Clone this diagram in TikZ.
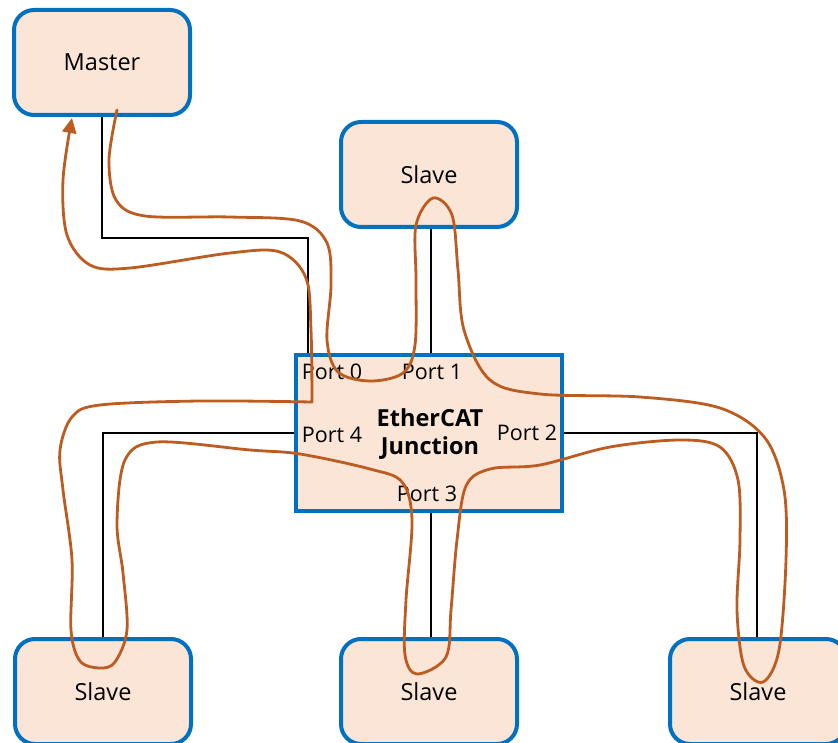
\documentclass[tikz,border=0pt]{standalone}
\usepackage{fontspec}
\setmainfont{Open Sans}
\usetikzlibrary{arrows.meta}
\definecolor{boxfill}{RGB}{251,229,214}
\definecolor{boxline}{RGB}{0,112,192}
\definecolor{frame}{RGB}{188,92,32}
\begin{document}
\begin{tikzpicture}[x=1pt,y=-1pt,
    unit/.style={draw=boxline,fill=boxfill,line width=4pt,rounded corners=20pt,
      minimum width=176pt,minimum height=105pt,inner sep=0pt,
      font=\fontsize{23.5}{28}\selectfont},
    junctionbox/.style={draw=boxline,fill=boxfill,line width=4pt,
      minimum width=266pt,minimum height=156pt,inner sep=0pt},
    portlabel/.style={inner sep=0pt,font=\fontsize{21.5}{26}\selectfont},
    wire/.style={line width=1.5pt,black},
    signal/.style={line width=2.8pt,frame,line cap=round,line join=round}]
  \useasboundingbox (0,0) rectangle (838,743);
  \clip (0,0) rectangle (838,743);

  \node[unit] (master) at (102,62.5) {Master};
  \node[unit] (slavetop) at (429,174.5) {Slave};
  \node[junctionbox] (junction) at (429,433) {};
  \node[unit] (slaveleft) at (103,691.5) {Slave};
  \node[unit] (slavemid) at (429,691.5) {Slave};
  \node[unit] (slaveright) at (758,691.5) {Slave};

  \draw[wire] (master.south) -- ++(0,121) -| ([xshift=14pt]junction.north west);
  \draw[wire] ([xshift=2pt]slavetop.south) -- ([xshift=2pt]junction.north);
  \draw[wire] (junction.west) -| (slaveleft.north);
  \draw[wire] (junction.east) -| ([xshift=-1pt]slaveright.north);
  \draw[wire] ([xshift=2pt]junction.south) -- ([xshift=2pt]slavemid.north);

  \node[portlabel] (port0) at (332,372) {Port 0};
  \node[portlabel] (port1) at (432,372) {Port 1};
  \node[portlabel] (port4) at (332,435) {Port 4};
  \node[portlabel] (port2) at (527,433) {Port 2};
  \node[portlabel] (port3) at (427,494) {Port 3};
  \node[portlabel,align=center,font=\fontsize{23.5}{28}\selectfont\bfseries]
    (title) at (430,434) {EtherCAT\\Junction};

  \draw[signal,-{Triangle[length=15pt,width=14pt]}]
    plot[smooth,tension=0.55] coordinates {
      (117,110) (109,160) (116,200) (145,216) (230,217) (300,221) (327,243)
      (331,285) (327,340) (338,372) (370,381) (403,373) (415,345) (416,280)
      (416,225) (433,198) (452,215) (458,270) (464,330) (490,380) (540,394)
      (640,397) (720,408) (765,438) (784,490) (786,560) (779,650) (763,682)
      (744,666) (737,610) (740,540) (738,480) (720,447) (680,440) (610,447)
      (540,465) (490,469) (466,486) (457,540) (451,610) (446,657) (417,674)
      (405,655) (406,600) (412,520) (402,482) (370,469) (300,454) (250,450)
      (157,442) (125,460) (117,523) (123,573) (127,630) (115,662) (100,668)
      (80,661) (71,630) (72,560) (63,490) (60,450) (72,417) (100,405)
      (200,401) (312,402)}
    -- plot[smooth,tension=0.55] coordinates {
      (312,402) (311,330) (306,278) (280,252) (230,253) (130,268) (90,265)
      (67,235) (63,180) (72,118)};
\end{tikzpicture}
\end{document}
